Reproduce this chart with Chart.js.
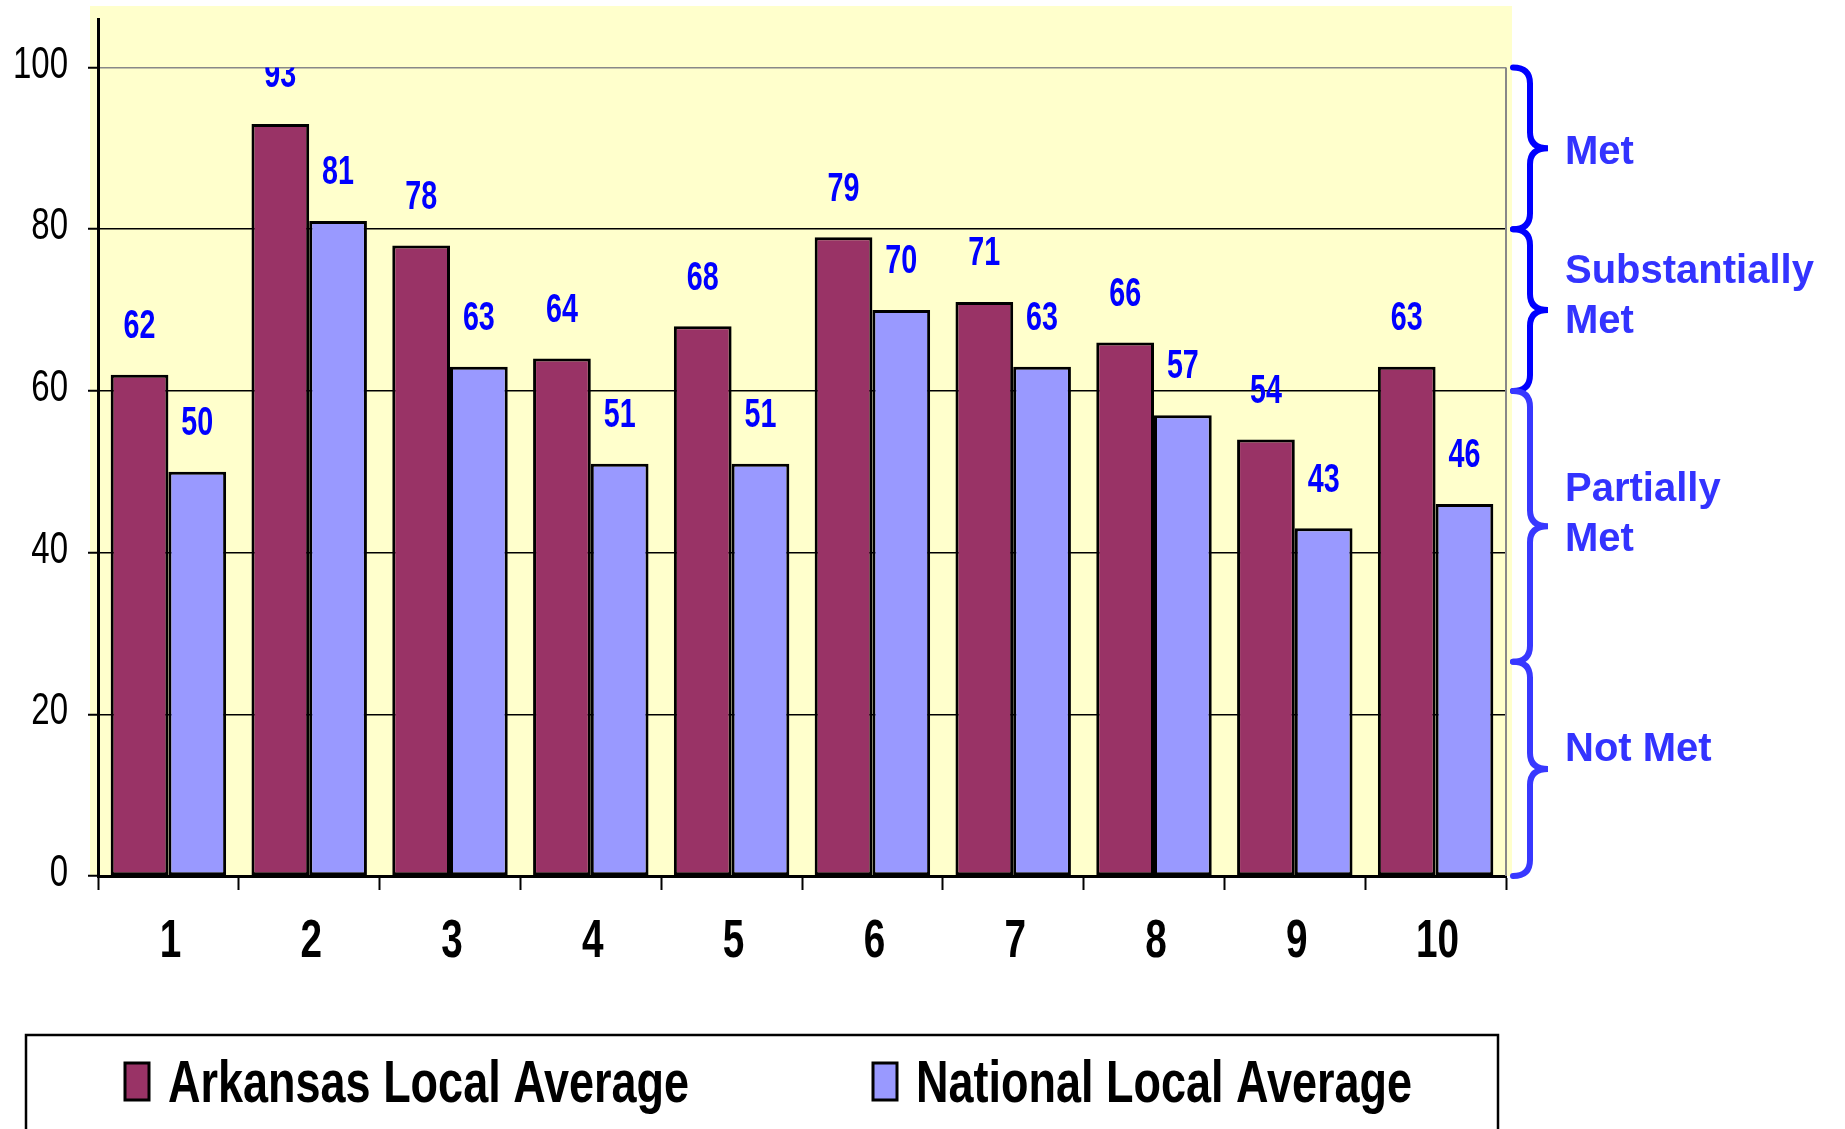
<!DOCTYPE html>
<html>
<head>
<meta charset="utf-8">
<script src="https://cdn.jsdelivr.net/npm/chart.js@4.4.0/dist/chart.umd.min.js"></script>
<style>
  html, body { margin: 0; padding: 0; background: #fff; }
  canvas { display: block; }
</style>
</head>
<body>
<canvas id="barChart" width="1845" height="1129"></canvas>
<script>
var categories = ['1', '2', '3', '4', '5', '6', '7', '8', '9', '10'];
var arkansasValues = [62, 93, 78, 64, 68, 79, 71, 66, 54, 63];
var nationalValues = [50, 81, 63, 51, 51, 70, 63, 57, 43, 46];
var seriesNames = ['Arkansas Local Average', 'National Local Average'];
var yTickValues = [0, 20, 40, 60, 80, 100];
var bandEdges = [100, 80, 60, 26.5, 0];
var bandLabels = [['Met'], ['Substantially', 'Met'], ['Partially', 'Met'], ['Not Met']];

var FONT = "'Liberation Sans', Arial, sans-serif";
// vertical nudge of each band label against its brace tip
var bandLabelShift = [5, -13, -11, -19];

// text squeezed horizontally to look like Arial Narrow
function drawText(c, txt, x, y, sx, sy) {
    c.save();
    c.translate(x, y);
    c.scale(sx, sy);
    c.fillText(txt, 0, 0);
    c.restore();
}

function drawBrace(c, xl, y1, y2) {
    var xs = xl + 17, xt = xl + 35, ym = (y1 + y2) / 2, r = 16;
    c.beginPath();
    c.moveTo(xl, y1);
    c.quadraticCurveTo(xs, y1, xs, y1 + r);
    c.lineTo(xs, ym - r);
    c.quadraticCurveTo(xs, ym, xt, ym);
    c.quadraticCurveTo(xs, ym, xs, ym + r);
    c.lineTo(xs, y2 - r);
    c.quadraticCurveTo(xs, y2, xl, y2);
    c.stroke();
}

var decorPlugin = {
    id: 'decor',
    beforeDraw: function (chart) {
        var c = chart.ctx, a = chart.chartArea, y = chart.scales.y;
        c.save();
        c.fillStyle = '#fff';
        c.fillRect(0, 0, chart.width, chart.height);
        c.fillStyle = '#FFFFCC';
        c.fillRect(a.left - 8, 6, a.right - a.left + 14, y.getPixelForValue(0) - 6);
        c.restore();
    },
    afterDatasetsDraw: function (chart) {
        var c = chart.ctx, a = chart.chartArea, y = chart.scales.y;
        var top = y.getPixelForValue(100);
        c.save();
        c.beginPath();
        c.rect(a.left, top, a.right - a.left, a.bottom - top);
        c.clip();
        c.fillStyle = '#0000FF';
        c.font = 'bold 41px ' + FONT;
        c.textAlign = 'center';
        c.textBaseline = 'middle';
        chart.data.datasets.forEach(function (ds, i) {
            chart.getDatasetMeta(i).data.forEach(function (bar, j) {
                drawText(c, String(ds.data[j]), bar.x, bar.y - 48, 0.7, 1);
            });
        });
        c.restore();
    },
    afterDraw: function (chart) {
        var c = chart.ctx, a = chart.chartArea, x = chart.scales.x, y = chart.scales.y;
        c.save();
        // right border of plot
        c.strokeStyle = '#888';
        c.lineWidth = 2;
        c.beginPath();
        c.moveTo(a.right, y.getPixelForValue(100));
        c.lineTo(a.right, y.getPixelForValue(0));
        c.stroke();

        // axis tick labels
        c.fillStyle = '#000';
        c.textBaseline = 'middle';
        c.textAlign = 'right';
        c.font = '44px ' + FONT;
        y.ticks.forEach(function (t) {
            drawText(c, String(t.value), a.left - 30, y.getPixelForValue(t.value) - 2, 0.75, 1);
        });
        c.textAlign = 'center';
        c.font = 'bold 53px ' + FONT;
        x.ticks.forEach(function (t, i) {
            drawText(c, categories[i], x.getPixelForTick(i) + 2, 942, 0.73, 1);
        });

        // braces with band labels
        c.lineWidth = 6;
        c.lineCap = 'round';
        c.font = 'bold 40px ' + FONT;
        c.textAlign = 'left';
        for (var k = 0; k < bandLabels.length; k++) {
            var y1 = y.getPixelForValue(bandEdges[k]);
            var y2 = y.getPixelForValue(bandEdges[k + 1]);
            c.strokeStyle = k < 2 ? '#0000FF' : '#3838FF';
            drawBrace(c, a.right + 7, y1, y2);
            var lines = bandLabels[k];
            var mid = (y1 + y2) / 2 + bandLabelShift[k];
            c.fillStyle = '#3333FF';
            lines.forEach(function (t, n) {
                c.fillText(t, a.right + 59, mid + (n - (lines.length - 1) / 2) * 50);
            });
        }

        // legend box
        c.lineCap = 'butt';
        c.strokeStyle = '#000';
        c.lineWidth = 2.5;
        c.strokeRect(26, 1035, 1472, 200);
        var swX = [125, 873];
        c.font = 'bold 60px ' + FONT;
        chart.data.datasets.forEach(function (ds, i) {
            c.fillStyle = ds.backgroundColor;
            c.fillRect(swX[i], 1063, 24, 37);
            c.lineWidth = 3;
            c.strokeRect(swX[i], 1063, 24, 37);
            c.fillStyle = '#000';
            drawText(c, ds.label, swX[i] + 43, 1085, 0.75, 1);
        });
        c.restore();
    }
};

var ctx = document.getElementById('barChart').getContext('2d');
new Chart(ctx, {
    type: 'bar',
    data: {
        labels: categories,
        datasets: [{
            label: seriesNames[0],
            data: arkansasValues,
            backgroundColor: '#993366',
            borderColor: '#000',
            borderWidth: 3,
            borderSkipped: false
        }, {
            label: seriesNames[1],
            data: nationalValues,
            backgroundColor: '#9999FF',
            borderColor: '#000',
            borderWidth: 3,
            borderSkipped: false
        }]
    },
    options: {
        responsive: false,
        animation: false,
        layout: { padding: { top: 19, right: 339, left: 0, bottom: 0 } },
        datasets: { bar: { categoryPercentage: 0.82, barPercentage: 1 } },
        plugins: { legend: { display: false }, tooltip: { enabled: false } },
        scales: {
            x: {
                afterFit: function (s) { s.height = 253; },
                grid: { drawOnChartArea: false, offset: true, tickLength: 14, tickColor: '#000', tickWidth: 2 },
                border: { color: '#000', width: 3 },
                ticks: { display: false }
            },
            y: {
                min: 0,
                max: 106,
                afterFit: function (s) { s.width = 98; },
                afterBuildTicks: function (axis) {
                    axis.ticks = yTickValues.map(function (v) { return { value: v }; });
                },
                grid: {
                    color: function (g) { return g.tick && g.tick.value === 100 ? '#888' : '#000'; },
                    lineWidth: 1.5,
                    tickLength: 10,
                    tickColor: '#000',
                    tickWidth: 2
                },
                border: { color: '#000', width: 3 },
                ticks: { display: false }
            }
        }
    },
    plugins: [decorPlugin]
});
</script>
</body>
</html>
